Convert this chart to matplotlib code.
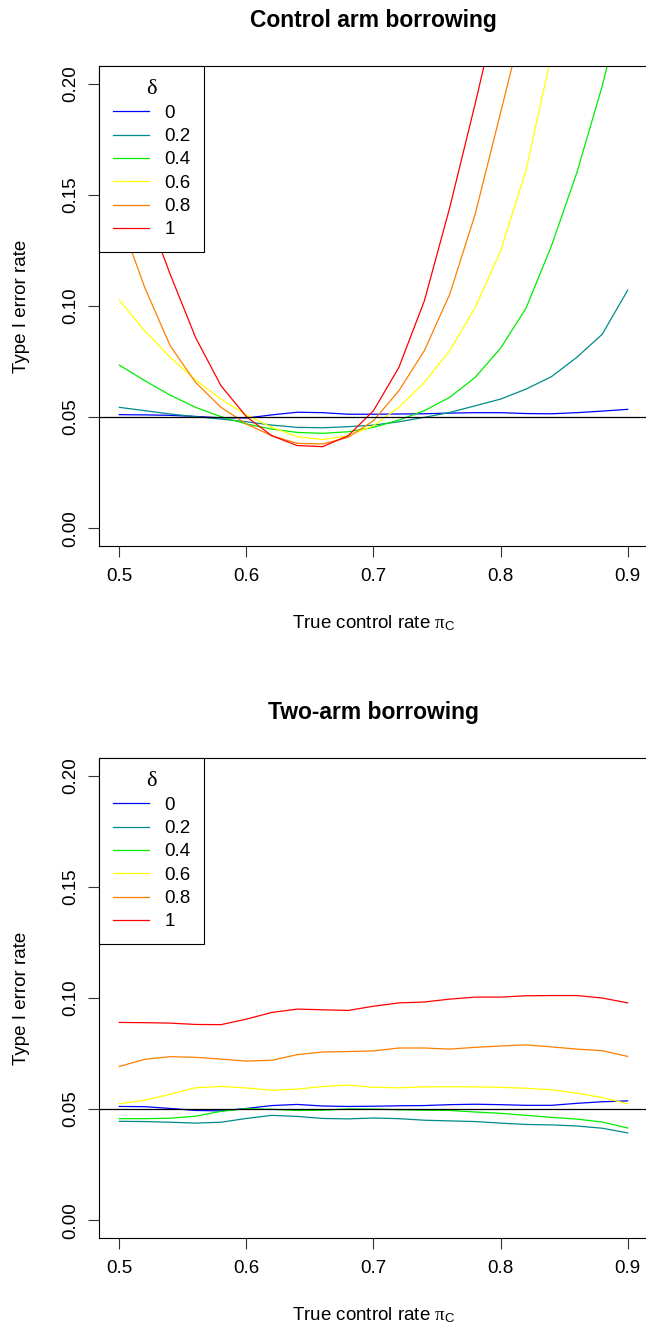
import matplotlib
matplotlib.use("Agg")
import matplotlib.pyplot as plt
from matplotlib.ticker import FormatStrFormatter

plt.rcParams['font.family'] = ['Liberation Sans', 'DejaVu Sans']
plt.rcParams['mathtext.fontset'] = 'custom'
plt.rcParams['mathtext.rm'] = 'Liberation Sans'
plt.rcParams['mathtext.it'] = 'Liberation Serif'

# true control rate grid
pi_c = [0.50, 0.52, 0.54, 0.56, 0.58, 0.60, 0.62, 0.64, 0.66, 0.68, 0.70,
        0.72, 0.74, 0.76, 0.78, 0.80, 0.82, 0.84, 0.86, 0.88, 0.90]

deltas = ['0', '0.2', '0.4', '0.6', '0.8', '1']
colors = ['#0000FF', '#008B8B', '#00EE00', '#FFFF00', '#FF7F00', '#FF0000']

# control arm borrowing (values above 0.2 run off the top of the plot)
ctrl_d0 = [0.0511, 0.0510, 0.0508, 0.0503, 0.0497, 0.0496, 0.0510, 0.0522, 0.0520, 0.0513, 0.0513,
           0.0514, 0.0515, 0.0518, 0.0520, 0.0520, 0.0516, 0.0515, 0.0520, 0.0527, 0.0535]
ctrl_d02 = [0.0544, 0.0529, 0.0514, 0.0502, 0.0491, 0.0479, 0.0464, 0.0454, 0.0452, 0.0457, 0.0464,
            0.0479, 0.0499, 0.0521, 0.0551, 0.0581, 0.0626, 0.0682, 0.0769, 0.0873, 0.1071]
ctrl_d04 = [0.0734, 0.0664, 0.0599, 0.0544, 0.0502, 0.0469, 0.0446, 0.0431, 0.0427, 0.0434, 0.0454,
            0.0487, 0.0529, 0.0589, 0.0679, 0.0810, 0.0990, 0.1270, 0.1600, 0.1990, 0.2450]
ctrl_d06 = [0.1026, 0.0888, 0.0769, 0.0667, 0.0581, 0.0509, 0.0454, 0.0412, 0.0399, 0.0416, 0.0461,
            0.0544, 0.0656, 0.0799, 0.0993, 0.1248, 0.1610, 0.2130, 0.2700, 0.3300, 0.4000]
ctrl_d08 = [0.1400, 0.1083, 0.0821, 0.0656, 0.0544, 0.0469, 0.0416, 0.0382, 0.0379, 0.0409, 0.0484,
            0.0619, 0.0799, 0.1053, 0.1413, 0.1870, 0.2330, 0.2900, 0.3500, 0.4200, 0.5000]
ctrl_d1 = [0.1800, 0.1450, 0.1143, 0.0858, 0.0641, 0.0502, 0.0416, 0.0372, 0.0367, 0.0416, 0.0529,
           0.0724, 0.1023, 0.1443, 0.1910, 0.2400, 0.3000, 0.3600, 0.4300, 0.5000, 0.5800]

# two-arm borrowing
two_d0 = [0.0512, 0.0511, 0.0503, 0.0494, 0.0492, 0.0503, 0.0516, 0.0521, 0.0514, 0.0512, 0.0513,
          0.0515, 0.0516, 0.0520, 0.0522, 0.0520, 0.0517, 0.0517, 0.0526, 0.0533, 0.0537]
two_d02 = [0.0445, 0.0444, 0.0441, 0.0437, 0.0441, 0.0458, 0.0472, 0.0467, 0.0458, 0.0456, 0.0460,
           0.0457, 0.0450, 0.0447, 0.0444, 0.0437, 0.0431, 0.0429, 0.0424, 0.0414, 0.0393]
two_d04 = [0.0457, 0.0457, 0.0459, 0.0468, 0.0490, 0.0502, 0.0499, 0.0494, 0.0495, 0.0501, 0.0500,
           0.0497, 0.0495, 0.0494, 0.0487, 0.0481, 0.0472, 0.0463, 0.0455, 0.0442, 0.0415]
two_d06 = [0.0524, 0.0540, 0.0567, 0.0596, 0.0602, 0.0595, 0.0585, 0.0590, 0.0602, 0.0608, 0.0598,
           0.0596, 0.0600, 0.0601, 0.0600, 0.0598, 0.0594, 0.0587, 0.0572, 0.0552, 0.0524]
two_d08 = [0.0692, 0.0724, 0.0736, 0.0733, 0.0725, 0.0716, 0.0720, 0.0745, 0.0757, 0.0759, 0.0762,
           0.0775, 0.0775, 0.0770, 0.0778, 0.0784, 0.0789, 0.0780, 0.0770, 0.0763, 0.0737]
two_d1 = [0.0890, 0.0889, 0.0887, 0.0881, 0.0880, 0.0905, 0.0935, 0.0950, 0.0947, 0.0944, 0.0963,
          0.0978, 0.0982, 0.0995, 0.1004, 0.1004, 0.1010, 0.1011, 0.1011, 0.1000, 0.0978]

panels = [
    ("Control arm borrowing", [ctrl_d0, ctrl_d02, ctrl_d04, ctrl_d06, ctrl_d08, ctrl_d1]),
    ("Two-arm borrowing", [two_d0, two_d02, two_d04, two_d06, two_d08, two_d1]),
]

W, H = 646, 1328
fig = plt.figure(figsize=(W / 100, H / 100), dpi=100)

# axes boxes in pixels: left, top, right, bottom (right edge falls just off the canvas)
boxes = [(99, 66, 648, 546), (99, 758, 648, 1238)]

fs = 13.5
for (title, series), (l, t, r, b) in zip(panels, boxes):
    ax = fig.add_axes([l / W, 1 - b / H, (r - l) / W, (b - t) / H])
    for vals, c, d in zip(series, colors, deltas):
        ax.plot(pi_c, vals, color=c, lw=0.9, label=d)
    ax.axhline(0.05, color='black', lw=0.9)

    ax.set_xlim(0.484, 0.916)
    ax.set_ylim(-0.008, 0.208)
    ax.set_xticks([0.5, 0.6, 0.7, 0.8, 0.9])
    ax.set_yticks([0.0, 0.05, 0.10, 0.15, 0.20])
    ax.xaxis.set_major_formatter(FormatStrFormatter('%.1f'))
    ax.yaxis.set_major_formatter(FormatStrFormatter('%.2f'))
    ax.tick_params(axis='both', labelsize=fs, length=8, width=0.8, color='#333333')
    ax.tick_params(axis='x', pad=8)
    ax.tick_params(axis='y', pad=6)
    for lab in ax.get_yticklabels():
        lab.set_rotation(90)
        lab.set_va('center')
    for s in ax.spines.values():
        s.set_linewidth(0.8)

    ax.set_title(title, fontsize=16.5, fontweight='bold', pad=28)
    ax.set_xlabel(r'True control rate $\pi_{\mathrm{C}}$', fontsize=fs)
    ax.xaxis.set_label_coords(0.5, -0.14)
    ax.set_ylabel('Type I error rate', fontsize=fs)
    ax.yaxis.set_label_coords(-0.125, 0.5)

    leg = ax.legend(loc='upper left', bbox_to_anchor=(0, 1), borderaxespad=0,
                    fancybox=False, framealpha=1, edgecolor='black',
                    fontsize=fs, title='\u03b4', handlelength=1.92,
                    handletextpad=0.85, labelspacing=0.33, borderpad=0.72)
    leg.get_title().set_fontfamily('Liberation Serif')
    leg.get_title().set_fontsize(16)
    leg.get_frame().set_linewidth(0.8)

fig.savefig('out.png', dpi=100)
